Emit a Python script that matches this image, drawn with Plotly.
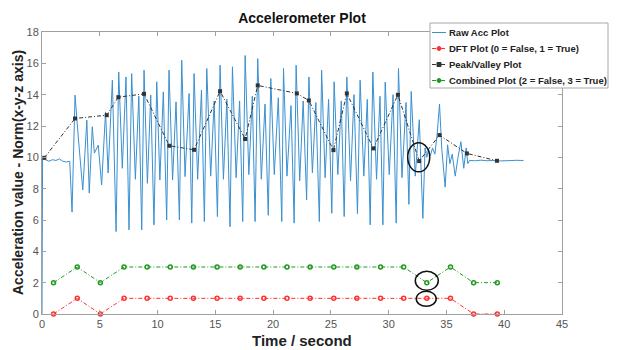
import plotly.graph_objects as go

# ---------------- data ----------------
# raw accelerometer norm (turning points of the trace), seconds / m s^-2
raw_t = [0.0, 0.05, 0.3, 0.6, 0.9, 1.2, 1.5, 1.8, 2.1, 2.4,
         2.6, 2.86, 3.14, 3.53, 3.88, 4.09, 4.35, 4.53, 4.87, 5.16, 5.5, 5.72,
         6.09, 6.41, 6.64, 6.95, 7.27, 7.53, 7.76, 8.08, 8.38,
         8.63, 8.83, 9.12, 9.41, 9.69, 9.93, 10.2, 10.5,
         10.79, 10.99, 11.3, 11.6, 11.89, 12.09, 12.38, 12.73,
         12.96, 13.16, 13.47, 13.8, 14.05, 14.26, 14.6, 14.9,
         15.18, 15.41, 15.7, 16.0, 16.27, 16.48, 16.8, 17.1,
         17.37, 17.58, 17.9, 18.2, 18.44, 18.67, 18.98, 19.3,
         19.58, 19.8, 20.1, 20.45, 20.75, 20.9, 21.2, 21.55,
         21.82, 21.99, 22.3, 22.6, 22.9, 23.1, 23.4, 23.7,
         24.0, 24.2, 24.5, 24.8, 25.08, 25.28, 25.6, 25.9,
         26.15, 26.38, 26.7, 27.0, 27.3, 27.53, 27.85, 28.15,
         28.4, 28.63, 28.95, 29.25, 29.5, 29.7, 30.05, 30.38,
         30.65, 30.85, 31.15, 31.5, 31.75, 31.95, 32.3, 32.65,
         32.96, 33.15, 33.3, 33.45, 33.6, 33.8, 34.0, 34.2, 34.4,
         34.6, 34.89, 35.1, 35.3, 35.5, 35.76, 36.0, 36.25, 36.5, 36.71, 36.85,
         37.0, 37.5, 38.0, 38.5, 39.0, 39.5, 40.0, 40.5, 41.0, 41.67]
raw_acc = [0.0, 9.9, 9.85, 9.75, 9.85, 9.8, 9.9, 9.75, 9.7, 9.75,
           6.5, 13.97, 11.3, 7.92, 12.37, 7.72, 11.95, 10.27, 10.78, 8.24, 12.9, 9.0,
           14.92, 5.26, 15.45, 9.3, 15.13, 5.37, 15.35, 8.6, 13.9,
           5.37, 15.56, 8.34, 13.97, 5.69, 14.82, 8.55, 14.18,
           6.0, 15.56, 8.55, 13.54, 6.0, 16.2, 8.77, 14.07,
           5.8, 15.35, 8.6, 14.3, 5.9, 15.67, 8.8, 13.6,
           6.22, 15.88, 8.6, 13.7, 5.57, 15.78, 8.7, 13.6,
           5.9, 16.5, 8.9, 13.9, 5.9, 16.3, 8.6, 13.4,
           6.3, 15.03, 8.9, 13.8, 5.9, 15.67, 8.8, 13.3,
           5.8, 15.88, 8.5, 13.6, 7.28, 15.13, 9.0, 13.5,
           5.9, 15.56, 8.7, 13.7, 6.43, 14.82, 8.9, 13.6,
           6.22, 15.13, 8.5, 14.0, 6.4, 14.92, 8.8, 13.7,
           5.69, 15.45, 8.6, 13.9, 5.69, 14.8, 8.9, 14.0,
           5.8, 15.67, 8.7, 13.5, 7.0, 14.2, 8.8, 12.4,
           6.1, 10.6, 10.0, 10.5, 10.1, 10.6, 10.2, 11.5, 13.4,
           10.5, 8.1, 10.8, 9.6, 10.2, 8.8, 10.0, 11.0, 9.3, 10.6, 9.6,
           9.8, 9.78, 9.82, 9.78, 9.8, 9.77, 9.8, 9.79, 9.81, 9.8]

# DFT / combined decisions, one per 2-second window
win_t = [1.0, 3.05, 5.05, 7.1, 9.1, 11.1, 13.1, 15.15, 17.15, 19.2,
         21.2, 23.2, 25.25, 27.25, 29.3, 31.3, 33.3, 35.35, 37.35, 39.4]
dft_flag = [0, 1, 0, 1, 1, 1, 1, 1, 1, 1, 1, 1, 1, 1, 1, 1, 1, 1, 0, 0]
combined_flag = [2, 3, 2, 3, 3, 3, 3, 3, 3, 3, 3, 3, 3, 3, 3, 3, 2, 3, 2, 2]

# detected peaks / valleys
pv_t = [0.2, 2.86, 5.6, 6.61, 8.83, 11.02, 13.16, 15.41, 17.58, 18.67,
        22.05, 23.09, 25.22, 26.38, 28.68, 30.8, 32.64, 34.4, 36.77, 39.37]
pv_acc = [9.97, 12.48, 12.69, 13.84, 14.05, 10.74, 10.48, 14.22, 11.17, 14.59,
          14.08, 13.63, 10.46, 14.08, 10.57, 13.99, 9.76, 11.42, 10.25, 9.78]

# highlighted window (centre in data units, half size in px)
mark_t = [32.6, 33.3, 33.25]
mark_y = [10.0, 2.12, 0.97]
mark_half_w = [11, 11.5, 10]
mark_half_h = [14.5, 9.5, 7.5]

FONT = "Liberation Sans, Arial, sans-serif"
W, H = 617, 350
ML, MR, MT, MB = 42, 55, 32, 36
PW, PH = W - ML - MR, H - MT - MB

RAW_C = "#3a90d0"
DFT_C = "#ff3030"
PV_C = "#333333"
CMB_C = "#1f9a1f"
DASH = "4px,2px,1px,2px"


def px_x(px):
    """page pixel column -> paper x"""
    return (px - ML) / PW


def px_y(py):
    """page pixel row -> paper y"""
    return (H - MB - py) / PH


fig = go.Figure()

fig.add_trace(go.Scatter(
    x=raw_t, y=raw_acc, mode="lines", name="Raw Acc Plot",
    line=dict(color=RAW_C, width=1)))

fig.add_trace(go.Scatter(
    x=win_t, y=dft_flag, mode="lines+markers",
    name="DFT Plot (0 = False, 1 = True)",
    line=dict(color=DFT_C, width=1, dash=DASH),
    marker=dict(symbol="circle-open", size=4, line=dict(width=1.5, color=DFT_C)),
    cliponaxis=False))

fig.add_trace(go.Scatter(
    x=pv_t, y=pv_acc, mode="lines+markers", name="Peak/Valley Plot",
    line=dict(color=PV_C, width=1, dash=DASH),
    marker=dict(symbol="square", size=4, color=PV_C),
    cliponaxis=False))

fig.add_trace(go.Scatter(
    x=win_t, y=combined_flag, mode="lines+markers",
    name="Combined Plot (2 = False, 3 = True)",
    line=dict(color=CMB_C, width=1, dash=DASH),
    marker=dict(symbol="circle-open", size=4, line=dict(width=1.5, color=CMB_C)),
    cliponaxis=False))

for cx, cy, hw, hh in zip(mark_t, mark_y, mark_half_w, mark_half_h):
    fig.add_shape(type="circle", xref="x", yref="y",
                  xsizemode="pixel", ysizemode="pixel",
                  xanchor=cx, yanchor=cy,
                  x0=-hw, x1=hw, y0=-hh, y1=hh,
                  line=dict(color="#111111", width=1.5))

# ---- compact legend box in the upper-right corner ----
legend_entries = [
    ("Raw Acc Plot", RAW_C, "solid", None),
    ("DFT Plot (0 = False, 1 = True)", DFT_C, DASH, "circle"),
    ("Peak/Valley Plot", PV_C, DASH, "square"),
    ("Combined Plot (2 = False, 3 = True)", CMB_C, DASH, "circle"),
]
box_l, box_r, box_t, box_b = 430, 608, 23, 88
row_y = [32.5, 48.5, 64.5, 80.5]
annotations = []
fig.add_shape(type="rect", xref="paper", yref="paper", layer="above",
              x0=px_x(box_l), x1=px_x(box_r), y0=px_y(box_b), y1=px_y(box_t),
              fillcolor="white", line=dict(color="#a8a8a8", width=1))
for (label, col, dash, sym), ry in zip(legend_entries, row_y):
    fig.add_shape(type="line", xref="paper", yref="paper", layer="above",
                  x0=px_x(432), x1=px_x(446), y0=px_y(ry), y1=px_y(ry),
                  line=dict(color=col, width=1, dash=dash))
    if sym is not None:
        fig.add_shape(type="circle" if sym == "circle" else "rect",
                      xref="paper", yref="paper", layer="above",
                      xsizemode="pixel", ysizemode="pixel",
                      xanchor=px_x(439), yanchor=px_y(ry),
                      x0=-2, x1=2, y0=-2, y1=2,
                      fillcolor=col, line=dict(color=col, width=1))
    annotations.append(dict(
        text="<b>" + label + "</b>", xref="paper", yref="paper",
        x=px_x(447), y=px_y(ry), xanchor="left", yanchor="middle",
        showarrow=False, font=dict(family=FONT, size=9.5, color="#222222")))

axis_common = dict(
    showline=True, linecolor="#a0a0a0", linewidth=1, mirror="ticks",
    ticks="inside", ticklen=4, tickcolor="#a0a0a0",
    showgrid=False, zeroline=False,
    tickfont=dict(family=FONT, size=11, color="#555555"))

fig.update_xaxes(range=[0, 45], dtick=5, tick0=0, **axis_common)
fig.update_yaxes(range=[0, 18], dtick=2, tick0=0, **axis_common)

annotations += [
    dict(text="<b>Time / second</b>", xref="paper", yref="paper",
         x=0.5, y=px_y(340), xanchor="center", yanchor="middle",
         showarrow=False, font=dict(family=FONT, size=15, color="#222222")),
    dict(text="<b>Acceleration value - Norm(x-y-z axis)</b>",
         xref="paper", yref="paper", textangle=-90,
         x=px_x(18), y=0.5, xanchor="center", yanchor="middle",
         showarrow=False, font=dict(family=FONT, size=14, color="#222222")),
]

fig.update_layout(
    width=W, height=H,
    margin=dict(l=ML, r=MR, t=MT, b=MB),
    paper_bgcolor="white", plot_bgcolor="white",
    font=dict(family=FONT),
    title=dict(text="<b>Accelerometer Plot</b>", x=px_x(302), xref="paper",
               xanchor="center", y=1 - 18 / H, yanchor="middle",
               font=dict(family=FONT, size=14, color="#111111")),
    showlegend=False,
    annotations=annotations,
)

fig.write_html("out.html")
